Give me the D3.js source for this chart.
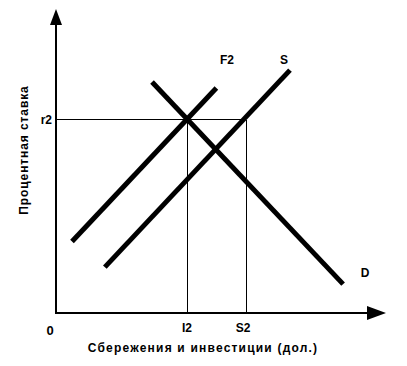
<!DOCTYPE html>
<html><head><meta charset="utf-8">
<script src="https://cdn.jsdelivr.net/npm/d3@7"></script>
<style>body{margin:0;background:#fff}svg text{font-family:"Liberation Sans",Arial,sans-serif;font-weight:bold;font-size:12px;fill:#000}</style>
</head><body><svg id="c" width="407" height="366"></svg>
<script>
// Curves: [x, y] endpoints in chart units
const curveNames = ["F2", "S", "D"];
const curveStart = [[0.485, 2.35], [1.48, 1.51], [2.91, 7.60]];
const curveEnd   = [[4.86, 7.40], [7.09, 7.99], [8.70, 0.95]];
// Equilibrium guide values
const rateLabel = "r2";
const rateValue = 6.35;
const guideLabels = ["I2", "S2"];
const guideValues = [3.97, 5.76];
const xTitle = "Сбережения и инвестиции (дол.)";
const yTitle = "Процентная ставка";

const svg = d3.select("#c");
const x = d3.scaleLinear().domain([0, 10]).range([56, 386]);
const y = d3.scaleLinear().domain([0, 10]).range([313, 9]);

// guide lines
svg.append("line").attr("x1", x(0)).attr("x2", x(guideValues[1])).attr("y1", y(rateValue)).attr("y2", y(rateValue))
  .attr("stroke", "#000").attr("stroke-width", 1).attr("shape-rendering", "crispEdges");
guideValues.forEach(v => {
  svg.append("line").attr("x1", x(v)).attr("x2", x(v)).attr("y1", y(rateValue)).attr("y2", y(0))
    .attr("stroke", "#000").attr("stroke-width", 1).attr("shape-rendering", "crispEdges");
});

// axes
svg.append("line").attr("x1", x(0)).attr("x2", x(10) - 8).attr("y1", y(0)).attr("y2", y(0)).attr("stroke", "#000").attr("stroke-width", 2);
svg.append("line").attr("x1", x(0)).attr("x2", x(0)).attr("y1", y(0) + 1).attr("y2", y(10) + 8).attr("stroke", "#000").attr("stroke-width", 2);
svg.append("path").attr("d", `M${x(10)},${y(0)} L${x(10) - 19},${y(0) - 7} L${x(10) - 19},${y(0) + 7} Z`).attr("fill", "#000");
svg.append("path").attr("d", `M${x(0)},${y(10)} L${x(0) - 6},${y(10) + 16} L${x(0) + 6},${y(10) + 16} Z`).attr("fill", "#000");

// curves
curveNames.forEach((n, i) => {
  svg.append("line")
    .attr("x1", x(curveStart[i][0])).attr("y1", y(curveStart[i][1]))
    .attr("x2", x(curveEnd[i][0])).attr("y2", y(curveEnd[i][1]))
    .attr("stroke", "#000").attr("stroke-width", 5);
});

// curve labels
svg.append("text").attr("x", 227).attr("y", 64).attr("text-anchor", "middle").text(curveNames[0]);
svg.append("text").attr("x", 284).attr("y", 64).attr("text-anchor", "middle").text(curveNames[1]);
svg.append("text").attr("x", 365).attr("y", 277).attr("text-anchor", "middle").text(curveNames[2]);

// r2 label
svg.append("text").attr("x", x(0) - 4).attr("y", y(rateValue) + 4).attr("text-anchor", "end").text(rateLabel);
// guide labels
guideLabels.forEach((l, i) => {
  svg.append("text").attr("x", x(guideValues[i]) - (i ? 3 : 0)).attr("y", 332).attr("text-anchor", "middle").text(l);
});
svg.append("text").attr("x", 50).attr("y", 335).attr("text-anchor", "middle").style("font-size", "13px").text("0");

// titles
svg.append("text").attr("x", 203).attr("y", 352).attr("text-anchor", "middle").attr("letter-spacing", "1.2px").text(xTitle);
svg.append("text").attr("transform", "translate(28,150) rotate(-90)").attr("text-anchor", "middle").attr("letter-spacing", "0.9px").text(yTitle);
</script></body></html>
